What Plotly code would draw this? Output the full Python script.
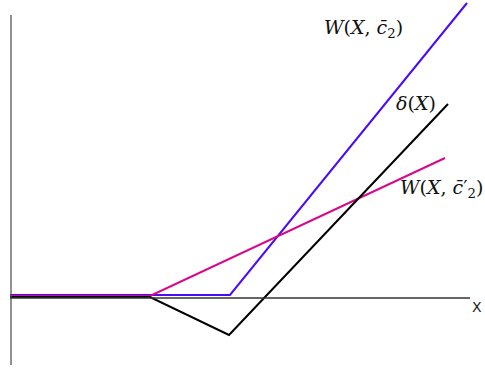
import plotly.graph_objects as go

# Data (origin at the axis crossing)
blue_x = [0, 220, 457]
blue_y = [2, 2, 294]
mag_x = [0, 140, 435]
mag_y = [1, 1, 139]
blk_x = [0, 140, 219, 438]
blk_y = [0, 0, -38, 193]

labels = {
    "w1": "<i>W</i>(<i>X</i>, <i>c̄</i><sub>2</sub>)",
    "delta": "<i>δ</i>(<i>X</i>)",
    "w2": "<i>W</i>(<i>X</i>, <i>c̄</i>′<sub>2</sub>)",
    "x": "X",
}

fig = go.Figure()
fig.add_trace(go.Scatter(x=blue_x, y=blue_y, mode="lines",
                         line=dict(color="#4a0cf5", width=2), hoverinfo="skip"))
fig.add_trace(go.Scatter(x=mag_x, y=mag_y, mode="lines",
                         line=dict(color="#d8088a", width=2), hoverinfo="skip"))
fig.add_trace(go.Scatter(x=blk_x, y=blk_y, mode="lines",
                         line=dict(color="#000000", width=2), hoverinfo="skip"))

# axis lines
fig.add_shape(type="line", x0=1, x1=1, y0=-68, y1=282,
              line=dict(color="#555555", width=1.3))
fig.add_shape(type="line", x0=0, x1=460, y0=-1, y1=-1,
              line=dict(color="#333333", width=1.3))

serif = "DejaVu Serif"
fig.add_annotation(x=353, y=269, text=labels["w1"], showarrow=False,
                   font=dict(family=serif, size=19, color="#111"))
fig.add_annotation(x=406, y=194, text=labels["delta"], showarrow=False,
                   font=dict(family=serif, size=19, color="#111"))
fig.add_annotation(x=475, y=109, text=labels["w2"], showarrow=False,
                   xanchor="right",
                   font=dict(family=serif, size=19, color="#111"))
fig.add_annotation(x=467, y=-10, text=labels["x"], showarrow=False,
                   font=dict(family="DejaVu Sans", size=14, color="#222"))

fig.update_layout(
    width=485, height=369,
    margin=dict(l=0, r=0, t=0, b=0),
    paper_bgcolor="white", plot_bgcolor="white",
    showlegend=False,
    xaxis=dict(range=[-10, 475], visible=False, fixedrange=True),
    yaxis=dict(range=[-72, 297], visible=False, fixedrange=True),
)
fig.write_html("out.html", config={"displayModeBar": False},
               post_script="document.body.style.margin='0';document.body.style.overflow='hidden';")
